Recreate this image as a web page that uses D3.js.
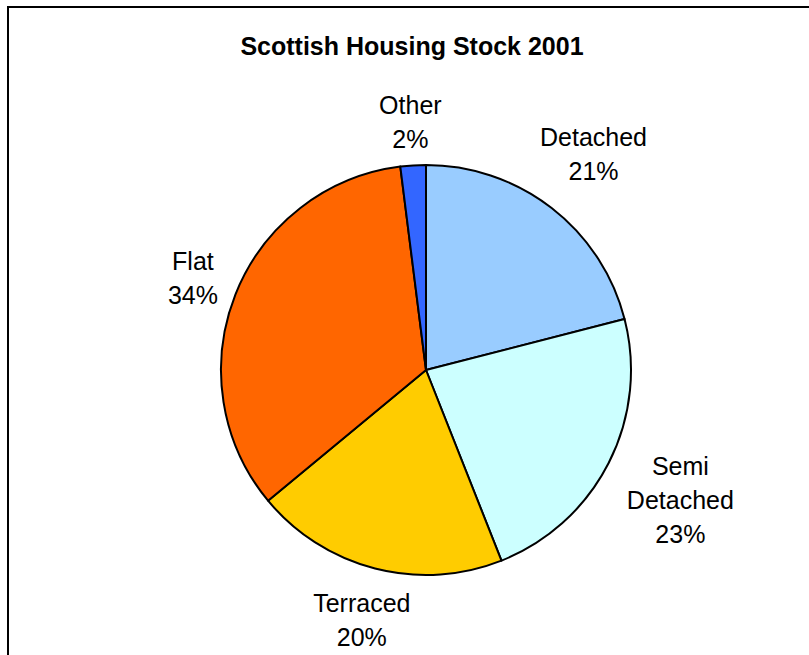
<!DOCTYPE html>
<html>
<head>
<meta charset="utf-8">
<script src="https://cdn.jsdelivr.net/npm/d3@7"></script>
<style>
  html, body { margin: 0; padding: 0; background: #fff; }
  svg { display: block; font-family: "Liberation Sans", Arial, sans-serif; }
</style>
</head>
<body>
<svg id="chart" width="809" height="655"></svg>
<script>
// Dwelling types, Scotland 2001 (share of stock, %)
const categories = ["Detached", "Semi Detached", "Terraced", "Flat", "Other"];
const shares = [21, 23, 20, 34, 2];
const colors = ["#99CCFF", "#CCFFFF", "#FFCC00", "#FF6600", "#3366FF"];
const title = "Scottish Housing Stock 2001";

const W = 809, H = 655;
const cx = 426, cy = 370, radius = 205;
const fontSize = 25, lineH = 34, gap = 11;

const svg = d3.select("#chart");

// chart area frame
svg.append("rect")
  .attr("x", 8).attr("y", 7)
  .attr("width", W + 50).attr("height", H + 50)
  .attr("fill", "#fff")
  .attr("stroke", "#000").attr("stroke-width", 2);

svg.append("text")
  .attr("x", 412).attr("y", 55)
  .attr("text-anchor", "middle")
  .attr("font-size", fontSize).attr("font-weight", "bold")
  .text(title);

const data = categories.map((c, i) => ({ name: c, value: shares[i], color: colors[i] }));

const pie = d3.pie().value(d => d.value).sort(null);
const arc = d3.arc().innerRadius(0).outerRadius(radius);
const arcs = pie(data);

const g = svg.append("g").attr("transform", `translate(${cx},${cy})`);

g.selectAll("path.slice")
  .data(arcs)
  .join("path")
  .attr("class", "slice")
  .attr("d", arc)
  .attr("fill", d => d.data.color)
  .attr("stroke", "#000")
  .attr("stroke-width", 2)
  .attr("stroke-linejoin", "round");

// outside labels: category words stacked above the percentage
const labels = g.selectAll("g.label")
  .data(arcs)
  .join("g")
  .attr("class", "label");

labels.each(function(d) {
  const grp = d3.select(this);
  const lines = d.data.name.split(" ").concat([d.data.value + "%"]);
  const t = grp.append("text")
    .attr("text-anchor", "middle")
    .attr("font-size", fontSize)
    .attr("fill", "#000");
  lines.forEach((ln, i) => {
    t.append("tspan").attr("x", 0).attr("y", i * lineH).text(ln);
  });
  const bb = t.node().getBBox();
  const mid = (d.startAngle + d.endAngle) / 2;
  const ux = Math.sin(mid), uy = -Math.cos(mid);
  // push the label box out until its nearest edge clears the rim
  const extent = Math.abs(ux) * bb.width / 2 + Math.abs(uy) * bb.height / 2;
  const dist = radius + gap + extent;
  const bx = ux * dist, by = uy * dist;
  const dx = bx - (bb.x + bb.width / 2);
  const dy = by - (bb.y + bb.height / 2);
  grp.attr("transform", `translate(${dx},${dy})`);
});
</script>
</body>
</html>
